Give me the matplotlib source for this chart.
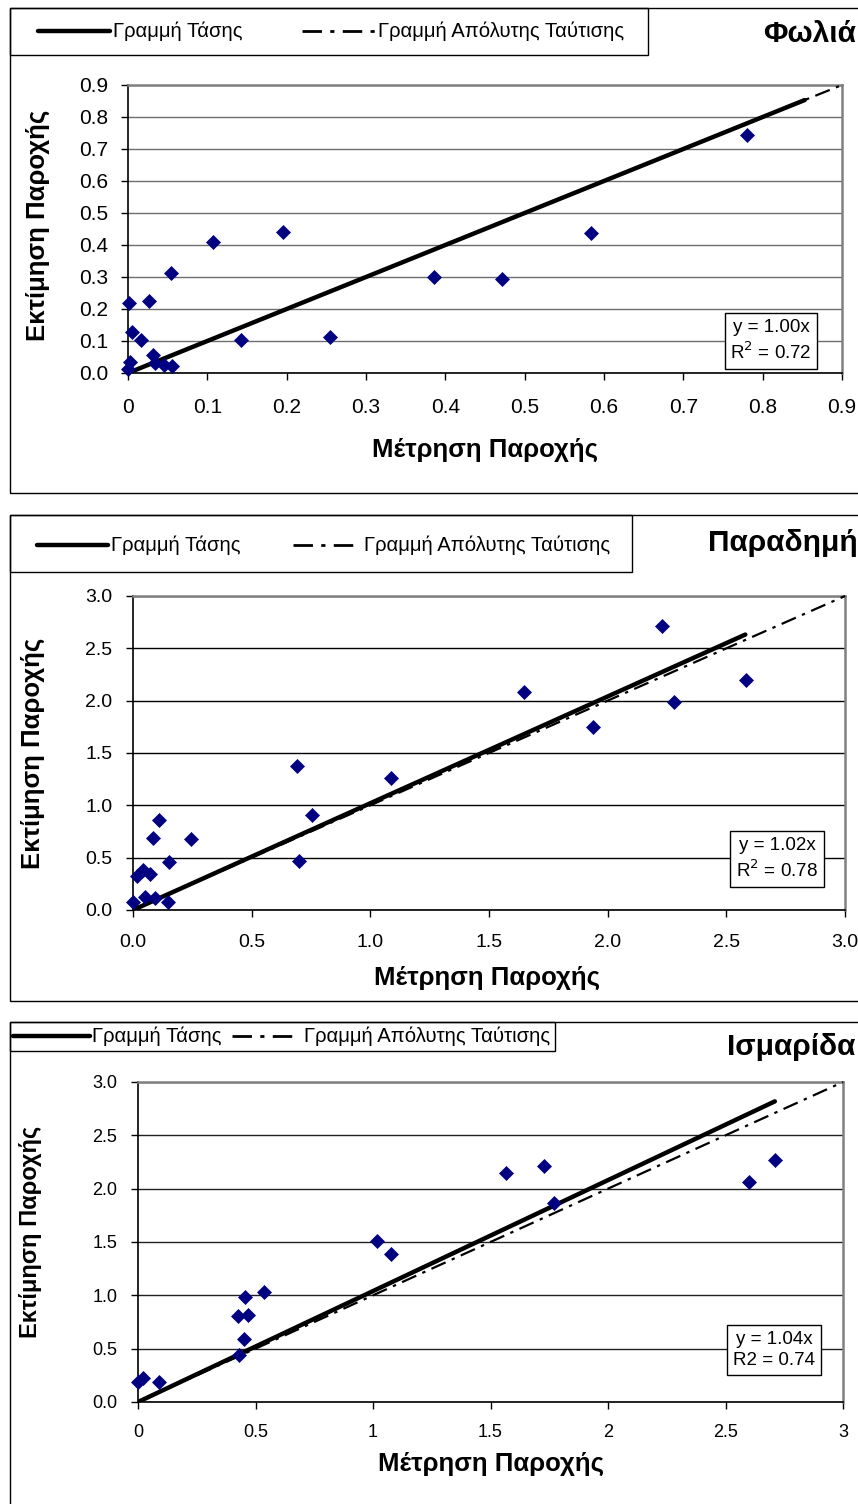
import matplotlib
matplotlib.use("Agg")
import matplotlib.pyplot as plt
from matplotlib.lines import Line2D
from matplotlib.patches import Rectangle

plt.rcParams['font.family'] = ['Liberation Sans', 'DejaVu Sans']

# ---- data ----
titles = ["Φωλιά", "Παραδημή", "Ισμαρίδα"]
xlabel = "Μέτρηση Παροχής"
ylabel = "Εκτίμηση Παροχής"
leg_trend = "Γραμμή Τάσης"
leg_ident = "Γραμμή Απόλυτης Ταύτισης"

# Fwlia
x1 = [0.001, 0.005, 0.016, 0.026, 0.054, 0.107, 0.196, 0.142, 0.254, 0.002, 0.0,
      0.031, 0.034, 0.045, 0.056, 0.386, 0.472, 0.583, 0.780]
y1 = [0.218, 0.127, 0.103, 0.226, 0.313, 0.410, 0.440, 0.103, 0.111, 0.033, 0.012,
      0.055, 0.030, 0.025, 0.022, 0.300, 0.294, 0.437, 0.744]
# Paradimi
x2 = [0.001, 0.016, 0.043, 0.072, 0.051, 0.093, 0.149, 0.153, 0.086, 0.110, 0.244,
      0.700, 0.753, 0.690, 1.088, 1.648, 1.940, 2.229, 2.280, 2.581]
y2 = [0.079, 0.325, 0.382, 0.344, 0.127, 0.118, 0.079, 0.461, 0.691, 0.860, 0.678,
      0.471, 0.908, 1.379, 1.264, 2.080, 1.745, 2.713, 1.984, 2.197]
# Ismarida
x3 = [0.0, 0.022, 0.088, 0.431, 0.424, 0.466, 0.454, 0.536, 0.452, 1.016, 1.076,
      1.565, 1.726, 1.770, 2.602, 2.711]
y3 = [0.185, 0.225, 0.185, 0.440, 0.805, 0.815, 0.980, 1.028, 0.588, 1.514, 1.383,
      2.148, 2.210, 1.867, 2.061, 2.273]

slopes = [1.00, 1.02, 1.04]
trend_end = [0.853, 2.58, 2.71]
eq_text = ["y = 1.00x\nR$^2$ = 0.72", "y = 1.02x\nR$^2$ = 0.78", "y = 1.04x\nR2 = 0.74"]

xticks1 = [0, 0.1, 0.2, 0.3, 0.4, 0.5, 0.6, 0.7, 0.8, 0.9]
xlabels1 = ["0", "0.1", "0.2", "0.3", "0.4", "0.5", "0.6", "0.7", "0.8", "0.9"]
yticks1 = xticks1
ylabels1 = ["0.0", "0.1", "0.2", "0.3", "0.4", "0.5", "0.6", "0.7", "0.8", "0.9"]
xticks2 = [0, 0.5, 1.0, 1.5, 2.0, 2.5, 3.0]
xlabels2 = ["0.0", "0.5", "1.0", "1.5", "2.0", "2.5", "3.0"]
xlabels3 = ["0", "0.5", "1", "1.5", "2", "2.5", "3"]

W, H = 858, 1504
fig = plt.figure(figsize=(W / 100, H / 100), dpi=100)


def fx(px):
    return px / W


def fy(py):
    return 1 - py / H


def frame(x0, y0, x1_, y1_, lw=1.0):
    fig.add_artist(Rectangle((fx(x0), fy(y1_)), fx(x1_) - fx(x0), fy(y0) - fy(y1_),
                             transform=fig.transFigure, fill=False, ec='black', lw=lw))


IDENT_LS = (0, (7, 3, 1.5, 3))

# panel layout in pixels
panels = [
    dict(frame=(10, 8, 875, 493), leg=(10, 8, 648, 55), legy=31, sol=(38, 110), t1=113,
         dsh=(302, 375), t2=378, title=(763, 34), ax=(128, 85, 842, 373),
         lim=0.9, xt=xticks1, xl=xlabels1, yt=yticks1, yl=ylabels1, grid='#6e6e6e',
         tfs=15, xlab=(485, 450), ylab=(38, 225), ylfs=18.5, eq=(771, 341), xpad=13, ypad=9),
    dict(frame=(10, 515, 875, 1001), leg=(10, 515, 632, 572), legy=545, sol=(37, 108), t1=111,
         dsh=(293, 360), t2=364, title=(708, 543), ax=(133, 596, 845, 910),
         lim=3.0, xt=xticks2, xl=xlabels2, yt=xticks2, yl=xlabels2, grid='black',
         tfs=14, xlab=(487, 978), ylab=(33, 753), ylfs=18.5, eq=(777, 859), xpad=12, ypad=10),
    dict(frame=(10, 1022, 875, 1520), leg=(10, 1022, 555, 1051), legy=1036, sol=(13, 90), t1=92,
         dsh=(232, 300), t2=304, title=(727, 1047), ax=(138, 1082, 843, 1402),
         lim=3.0, xt=xticks2, xl=xlabels3, yt=xticks2, yl=xlabels2, grid='#202020',
         tfs=13, xlab=(491, 1464), ylab=(30, 1232), ylfs=17, eq=(774, 1350), xpad=11, ypad=10),
]
xs = [x1, x2, x3]
ys = [y1, y2, y3]

for i, p in enumerate(panels):
    frame(*p['frame'])
    frame(*p['leg'])
    ly = fy(p['legy'])
    fig.add_artist(Line2D([fx(p['sol'][0]), fx(p['sol'][1])], [ly, ly], transform=fig.transFigure,
                          color='black', lw=3.2, solid_capstyle='round'))
    fig.add_artist(Line2D([fx(p['dsh'][0]), fx(p['dsh'][1])], [ly, ly], transform=fig.transFigure,
                          color='black', lw=2.0, linestyle=IDENT_LS))
    fig.text(fx(p['t1']), ly, leg_trend, fontsize=14.6, va='center', ha='left')
    fig.text(fx(p['t2']), ly, leg_ident, fontsize=14.6, va='center', ha='left')
    fig.text(fx(p['title'][0]), fy(p['title'][1]), titles[i], fontsize=21.5, fontweight='bold',
             va='center', ha='left')

    l, t, r, b = p['ax']
    ax = fig.add_axes([fx(l), fy(b), fx(r) - fx(l), fy(t) - fy(b)])
    lim = p['lim']
    ax.set_xlim(0, lim)
    ax.set_ylim(0, lim)
    ax.set_facecolor('white')
    ax.set_yticks(p['yt'])
    ax.set_yticklabels(p['yl'])
    ax.set_xticks(p['xt'])
    ax.set_xticklabels(p['xl'])
    ax.tick_params(axis='both', direction='out', length=5, width=1, color='black',
                   labelsize=p['tfs'])
    ax.tick_params(axis='x', pad=p['xpad'])
    ax.tick_params(axis='y', pad=p['ypad'])
    ax.grid(axis='y', color=p['grid'], lw=1.0)
    ax.set_axisbelow(True)
    for s in ['top', 'right']:
        ax.spines[s].set_color('#808080')
        ax.spines[s].set_linewidth(1.8)
    for s in ['left', 'bottom']:
        ax.spines[s].set_color('black')
        ax.spines[s].set_linewidth(1.2)

    ax.plot([0, lim], [0, lim], color='black', lw=1.6, linestyle=IDENT_LS, zorder=3, clip_on=False)
    ax.plot([0, trend_end[i]], [0, slopes[i] * trend_end[i]], color='black', lw=3.2, zorder=4,
            solid_capstyle='round')
    ax.plot(xs[i], ys[i], linestyle='none', marker='D', ms=7.3, color='#000080', mec='#000080',
            mew=0.5, zorder=5, clip_on=False)

    ax.text((p['eq'][0] - l) / (r - l), (b - p['eq'][1]) / (b - t), eq_text[i], transform=ax.transAxes,
            fontsize=13.5, ha='center', va='center', linespacing=1.35, zorder=6,
            bbox=dict(boxstyle='square,pad=0.3', fc='white', ec='black', lw=1.0))

    fig.text(fx(p['xlab'][0]), fy(p['xlab'][1]), xlabel, fontsize=18.5, fontweight='bold',
             ha='center', va='center')
    fig.text(fx(p['ylab'][0]), fy(p['ylab'][1]), ylabel, fontsize=p['ylfs'], fontweight='bold',
             ha='center', va='center', rotation=90)

fig.savefig('out.png', dpi=100, facecolor='white')
